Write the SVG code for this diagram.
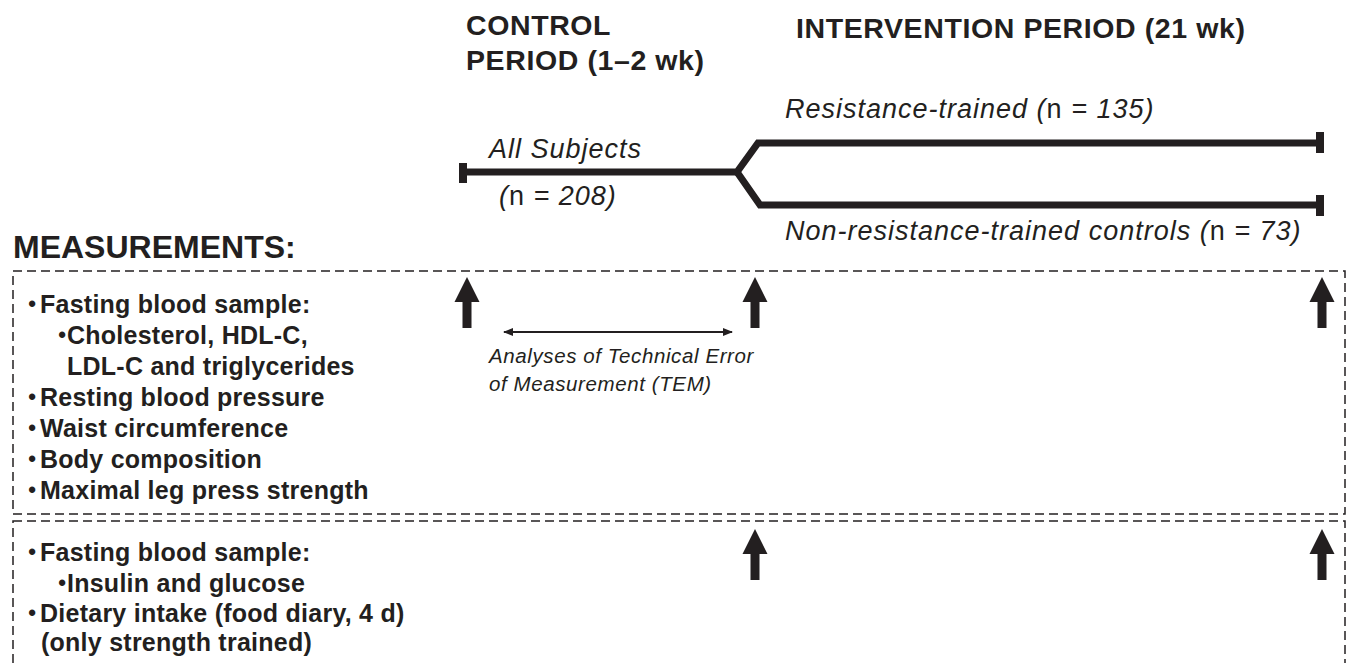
<svg xmlns="http://www.w3.org/2000/svg" width="1350" height="663" viewBox="0 0 1350 663">
<style>
text{fill:#231f20;font-family:"Liberation Sans",Arial,sans-serif}
.title{font-size:28.5px;font-weight:bold;letter-spacing:0.6px}
.grp{font-size:27px;font-style:italic;letter-spacing:1px}
.up{font-style:normal}
.meas{font-size:32px;font-weight:bold}
.item{font-size:25px;font-weight:bold;letter-spacing:0.25px}
.bul{font-size:22px;font-weight:bold;text-anchor:middle}
.tem{font-size:20.5px;font-style:italic;letter-spacing:0.6px}
.box{fill:none;stroke:#231f20;stroke-width:1.5;stroke-dasharray:9 5}
.tl{fill:none;stroke:#231f20;stroke-width:7;stroke-linejoin:miter;stroke-miterlimit:10}
.cap{fill:#231f20}
.arr{fill:#231f20}
.thin{stroke:#231f20;stroke-width:1.8;fill:none}
</style>
<defs>
<marker id="ah" viewBox="0 0 10 8" refX="9" refY="4" markerWidth="10" markerHeight="8" markerUnits="userSpaceOnUse" orient="auto-start-reverse">
<path d="M0 0 L10 4 L0 8 Z" fill="#231f20"/>
</marker>
<path id="bigarrow" d="M0 0 L12.5 25 L4.5 25 L4.5 51 L-4.5 51 L-4.5 25 L-12.5 25 Z"/>
</defs>

<g id="header-control">
<text class="title" x="466" y="35">CONTROL</text>
<text class="title" x="466" y="70">PERIOD (1–2 wk)</text>
</g>
<g id="header-intervention">
<text class="title" x="796" y="38">INTERVENTION PERIOD (21 wk)</text>
</g>

<g id="node-all-subjects">
<text class="grp" x="489" y="158">All Subjects</text>
<text class="grp" x="499" y="205">(<tspan class="up">n</tspan> = 208)</text>
</g>
<g id="node-resistance-trained">
<text class="grp" x="785" y="118">Resistance-trained (<tspan class="up">n</tspan> = 135)</text>
</g>
<g id="node-controls">
<text class="grp" x="785" y="240">Non-resistance-trained controls (<tspan class="up">n</tspan> = 73)</text>
</g>

<g id="node-measurements-title">
<text class="meas" x="13" y="258">MEASUREMENTS:</text>
</g>

<g id="node-box1">
<rect class="box" x="13" y="271" width="1332" height="243"/>
<text class="bul" x="32" y="311">•</text><text class="item" x="40" y="313">Fasting blood sample:</text>
<text class="bul" x="62" y="342">•</text><text class="item" x="67" y="344">Cholesterol, HDL-C,</text>
<text class="item" x="67" y="375">LDL-C and triglycerides</text>
<text class="bul" x="32" y="404">•</text><text class="item" x="40" y="406">Resting blood pressure</text>
<text class="bul" x="32" y="435">•</text><text class="item" x="40" y="437">Waist circumference</text>
<text class="bul" x="32" y="466">•</text><text class="item" x="40" y="468">Body composition</text>
<text class="bul" x="32" y="497">•</text><text class="item" x="40" y="499">Maximal leg press strength</text>
</g>

<g id="node-box2">
<rect class="box" x="13" y="521" width="1332" height="160"/>
<text class="bul" x="32" y="559">•</text><text class="item" x="40" y="561">Fasting blood sample:</text>
<text class="bul" x="62" y="590">•</text><text class="item" x="67" y="592">Insulin and glucose</text>
<text class="bul" x="32" y="620">•</text><text class="item" x="40" y="622">Dietary intake (food diary, 4 d)</text>
<text class="item" x="41" y="651">(only strength trained)</text>
</g>

<g id="node-tem">
<text class="tem" x="489" y="363">Analyses of Technical Error</text>
<text class="tem" x="489" y="391">of Measurement (TEM)</text>
</g>

<g id="connectors">
<path class="tl" d="M463 172 L737 172 L758 143 L1320 143"/>
<path class="tl" d="M737 172 L760 205 L1320 205"/>
<rect class="cap" x="459" y="163" width="8" height="20"/>
<rect class="cap" x="1316" y="132" width="8" height="21"/>
<rect class="cap" x="1316" y="195" width="8" height="21"/>
<line class="thin" x1="504" y1="332" x2="732" y2="332" marker-start="url(#ah)" marker-end="url(#ah)"/>
<use href="#bigarrow" class="arr" x="467" y="277"/>
<use href="#bigarrow" class="arr" x="755" y="277"/>
<use href="#bigarrow" class="arr" x="1322" y="277"/>
<use href="#bigarrow" class="arr" x="755" y="529"/>
<use href="#bigarrow" class="arr" x="1322" y="529"/>
</g>
</svg>
